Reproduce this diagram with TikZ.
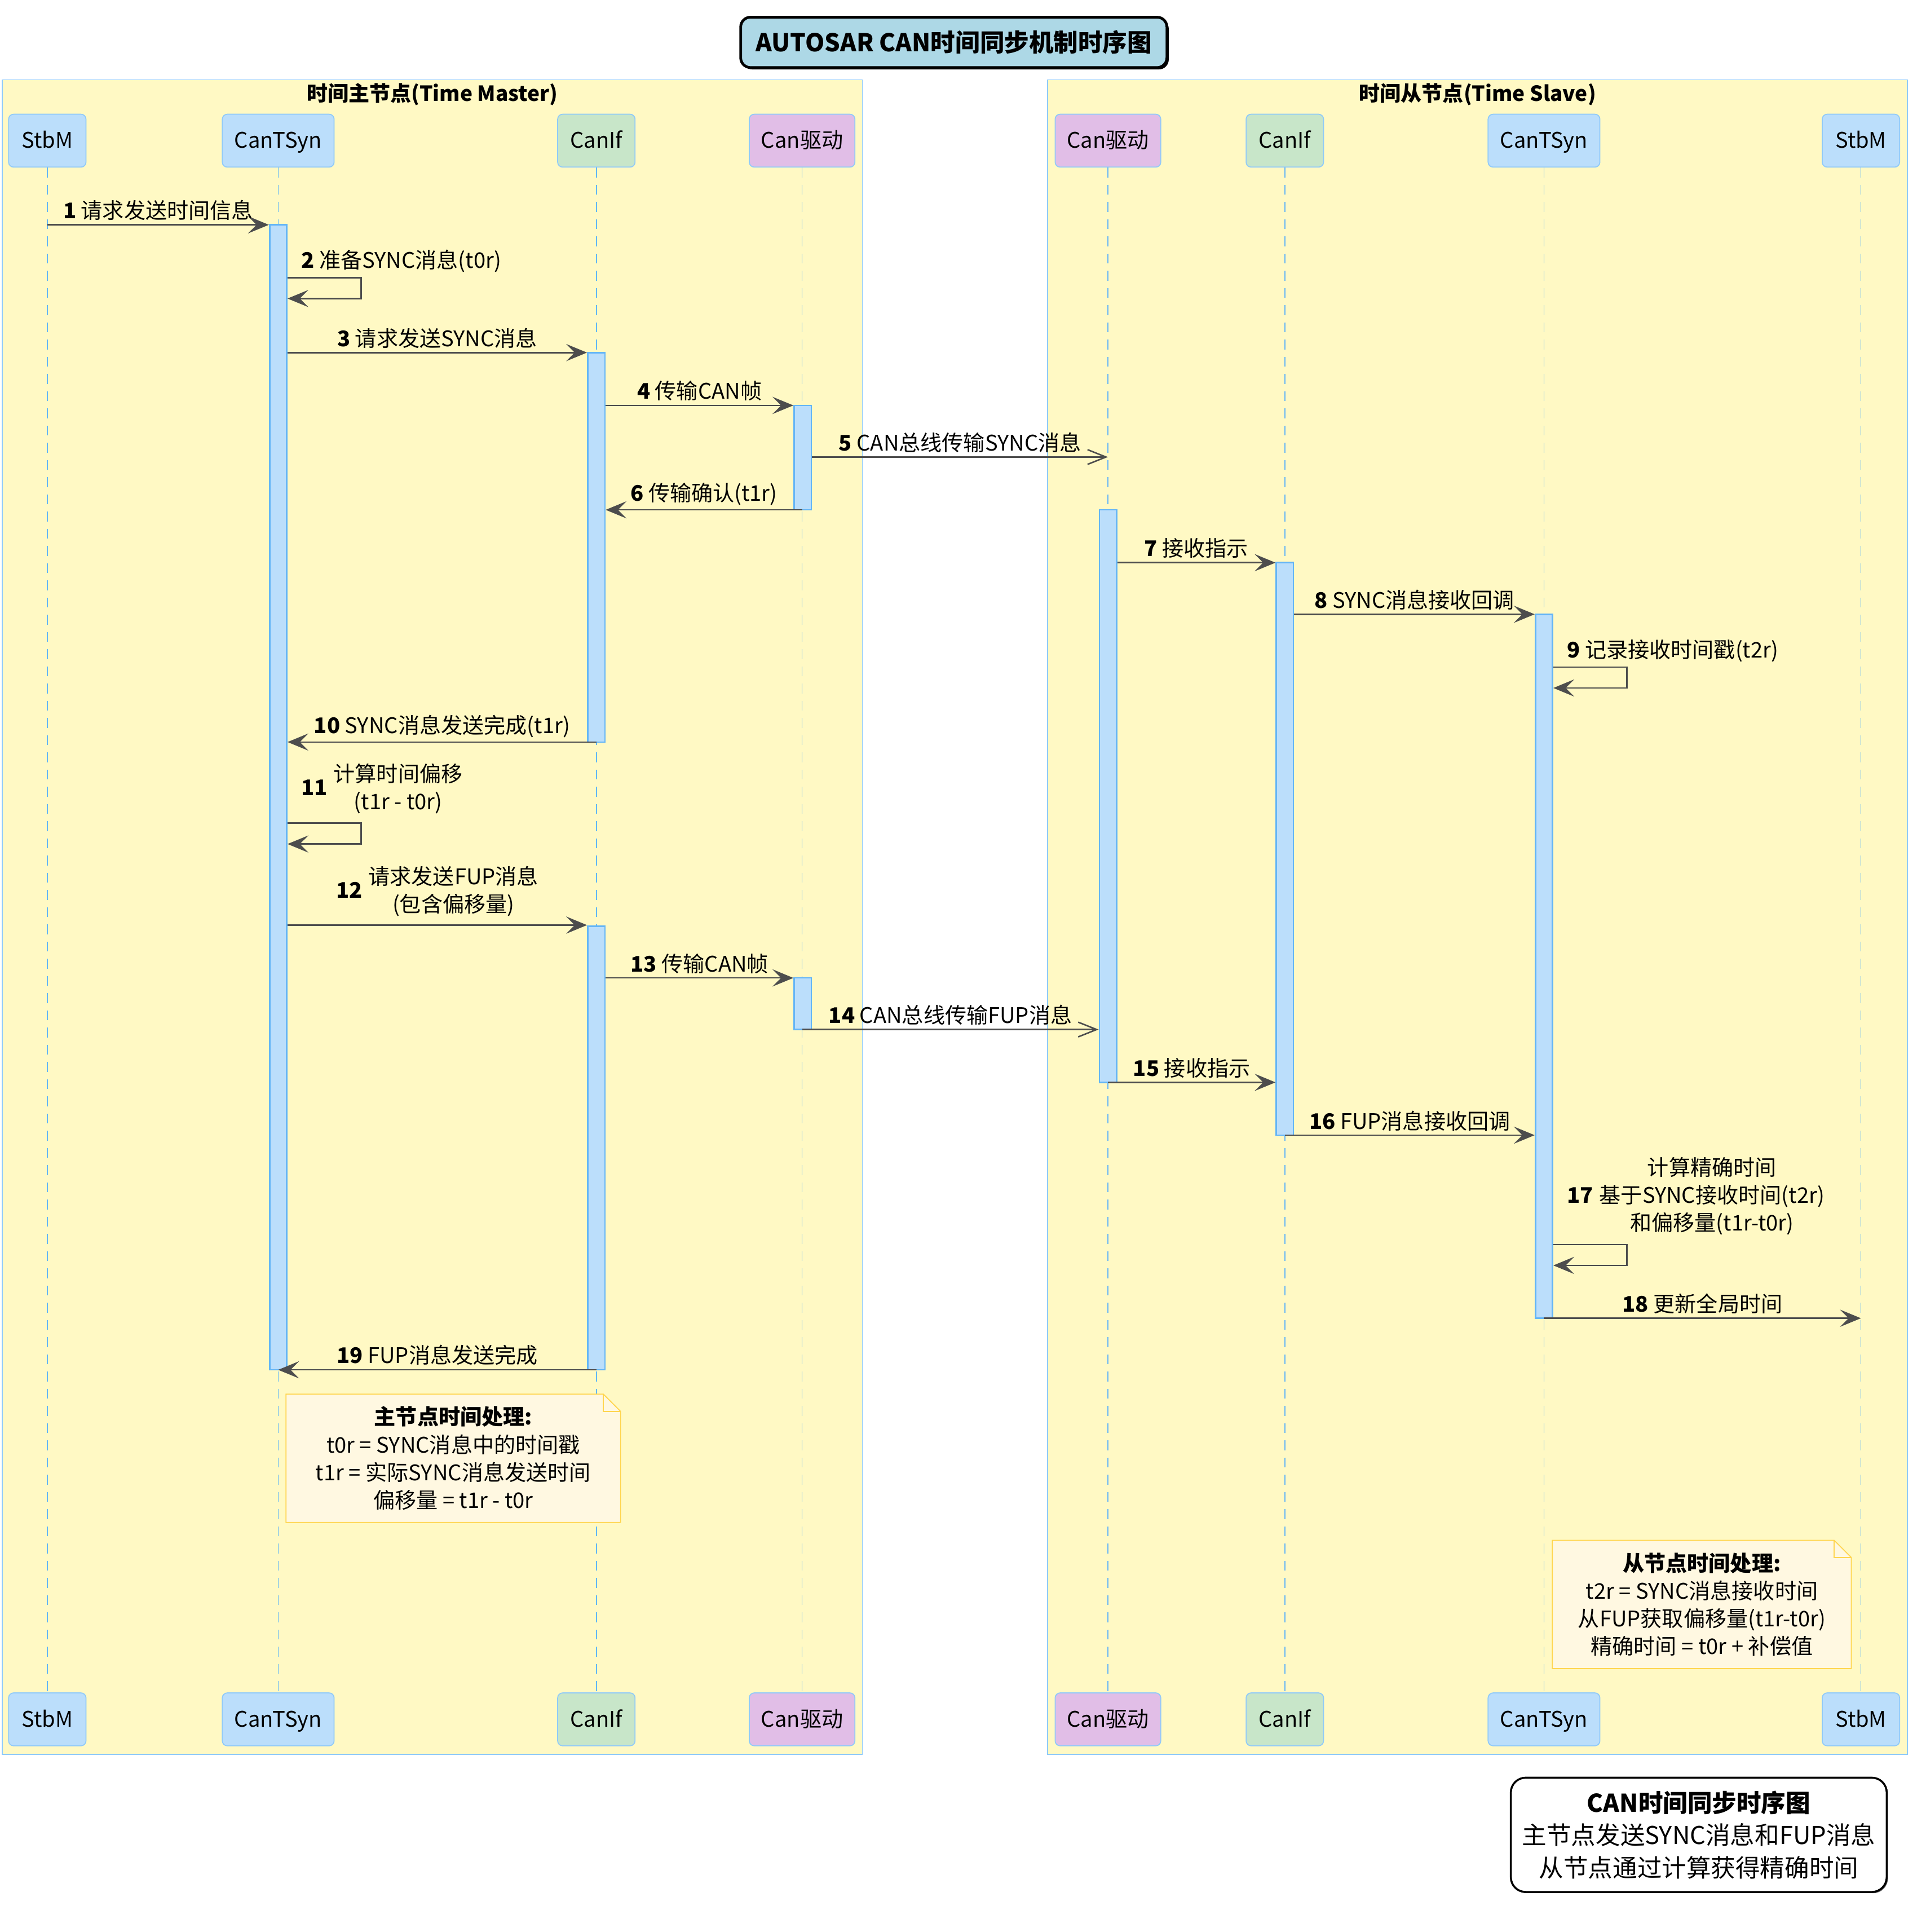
\documentclass[tikz,border=0pt]{standalone}
\usepackage{fontspec}
\setmainfont{Noto Sans CJK SC}
\usepackage{xcolor}
\usepackage{tikz}
\usetikzlibrary{arrows.meta,shadows}

\definecolor{boxyellow}{HTML}{FFF9C4}
\definecolor{boxline}{HTML}{90CAF9}
\definecolor{partblue}{HTML}{BBDEFB}
\definecolor{partgreen}{HTML}{C8E6C9}
\definecolor{partpurple}{HTML}{E1BEE7}
\definecolor{barline}{HTML}{64B5F6}
\definecolor{arrowgray}{HTML}{4D4D4D}
\definecolor{notefill}{HTML}{FFF8E1}
\definecolor{noteline}{HTML}{FFD54F}
\definecolor{titleblue}{HTML}{ADD8E6}

\tikzset{
	groupbox/.style={rectangle, fill=boxyellow, draw=boxline, line width=0.8pt},
	grouptitle/.style={inner sep=0pt, font=\fontsize{17}{20}\selectfont\bfseries},
	part/.style={rectangle, rounded corners=4pt, draw=boxline, line width=0.8pt, minimum height=43, inner sep=0pt, text height=15pt, text depth=3pt, font=\fontsize{17.5}{20}\selectfont},
	lifeline/.style={draw=barline, line width=0.8pt, dash pattern=on 8pt off 6pt},
	actbar/.style={rectangle, fill=partblue, draw=barline, line width=1.2pt, minimum width=14, inner sep=0pt},
	msg/.style={draw=arrowgray, line width=1.2pt, -{Stealth[length=17pt,width=14pt,inset=7pt]}},
	async/.style={draw=arrowgray, line width=1.2pt, -{Straight Barb[length=15pt,width=12pt]}},
	lbl/.style={above=2pt, inner sep=1pt, font=\fontsize{17.5}{22.6}\selectfont},
	selflbl/.style={anchor=south west, inner sep=1pt, font=\fontsize{17.5}{22.6}\selectfont},
	notebox/.style={rectangle, inner sep=0pt},
	noteframe/.style={fill=notefill, draw=noteline, line width=0.8pt},
	notetext/.style={align=center, inner sep=0pt, font=\fontsize{17.5}{22.6}\selectfont},
	titlebox/.style={rectangle, rounded corners=8pt, fill=titleblue, draw=black, line width=2.2pt, minimum width=347, minimum height=41, font=\fontsize{20}{24}\selectfont\bfseries, general shadow={fill=black, shadow xshift=1.5pt, shadow yshift=-1.5pt}},
	legendbox/.style={rectangle, rounded corners=12pt, fill=white, draw=black, line width=1.6pt, minimum width=306, minimum height=93, align=center, font=\fontsize{20}{26.5}\selectfont, general shadow={fill=black!60, shadow xshift=1pt, shadow yshift=-1pt}}
}

\begin{document}
\begin{tikzpicture}[x=1pt, y=-1pt]
	\useasboundingbox[fill=white] (0,0) rectangle (1568,1572.6);

	% title
	\node[titlebox] at (776.5,34.5)(title){AUTOSAR CAN时间同步机制时序图};

	% master and slave boxes
	\node[groupbox, minimum width=700, minimum height=1363] at (352,746.5)(boxM){};
	\node[groupbox, minimum width=700, minimum height=1363] at (1203,746.5)(boxS){};
	\node[grouptitle] at (352,77)(headM){时间主节点(Time Master)};
	\node[grouptitle] at (1203,77)(headS){时间从节点(Time Slave)};

	% participants
	\node[part, fill=partblue,   minimum width=63] at (38.5 ,114.5)(ptop1){StbM};
	\node[part, fill=partblue,   minimum width=91] at (226.5,114.5)(ptop2){CanTSyn};
	\node[part, fill=partgreen,  minimum width=63] at (485.5,114.5)(ptop3){CanIf};
	\node[part, fill=partpurple, minimum width=86] at (653  ,114.5)(ptop4){Can驱动};
	\node[part, fill=partpurple, minimum width=86] at (902  ,114.5)(ptop5){Can驱动};
	\node[part, fill=partgreen,  minimum width=63] at (1046 ,114.5)(ptop6){CanIf};
	\node[part, fill=partblue,   minimum width=91] at (1257 ,114.5)(ptop7){CanTSyn};
	\node[part, fill=partblue,   minimum width=63] at (1515 ,114.5)(ptop8){StbM};
	\node[part, fill=partblue,   minimum width=63] at (38.5 ,1399.5)(pbot1){StbM};
	\node[part, fill=partblue,   minimum width=91] at (226.5,1399.5)(pbot2){CanTSyn};
	\node[part, fill=partgreen,  minimum width=63] at (485.5,1399.5)(pbot3){CanIf};
	\node[part, fill=partpurple, minimum width=86] at (653  ,1399.5)(pbot4){Can驱动};
	\node[part, fill=partpurple, minimum width=86] at (902  ,1399.5)(pbot5){Can驱动};
	\node[part, fill=partgreen,  minimum width=63] at (1046 ,1399.5)(pbot6){CanIf};
	\node[part, fill=partblue,   minimum width=91] at (1257 ,1399.5)(pbot7){CanTSyn};
	\node[part, fill=partblue,   minimum width=63] at (1515 ,1399.5)(pbot8){StbM};

	% lifelines
	\draw[lifeline](ptop1) -- (pbot1);
	\draw[lifeline](ptop2) -- (pbot2);
	\draw[lifeline](ptop3) -- (pbot3);
	\draw[lifeline](ptop4) -- (pbot4);
	\draw[lifeline](ptop5) -- (pbot5);
	\draw[lifeline](ptop6) -- (pbot6);
	\draw[lifeline](ptop7) -- (pbot7);
	\draw[lifeline](ptop8) -- (pbot8);

	% activation bars
	\node[actbar, minimum height=932] at (226.5,649  )(act1){};
	\node[actbar, minimum height=317] at (485.5,445.5)(act2){};
	\node[actbar, minimum height=361] at (485.5,934.5)(act3){};
	\node[actbar, minimum height=85 ] at (653.5,372.5)(act4){};
	\node[actbar, minimum height=42 ] at (653.5,817  )(act5){};
	\node[actbar, minimum height=466] at (902  ,648  )(act6){};
	\node[actbar, minimum height=466] at (1046 ,691  )(act7){};
	\node[actbar, minimum height=573] at (1257 ,786.5)(act8){};

	% message rows
	\coordinate (r1) at (0,183);
	\coordinate (r2) at (0,226);
	\coordinate (r3) at (0,287);
	\coordinate (r4) at (0,330);
	\coordinate (r5) at (0,372);
	\coordinate (r6) at (0,415);
	\coordinate (r7) at (0,458);
	\coordinate (r8) at (0,500);
	\coordinate (r9) at (0,543);
	\coordinate (r10) at (0,604);
	\coordinate (r11) at (0,670);
	\coordinate (r12) at (0,753);
	\coordinate (r13) at (0,796);
	\coordinate (r14) at (0,838);
	\coordinate (r15) at (0,881);
	\coordinate (r16) at (0,924);
	\coordinate (r17) at (0,1013);
	\coordinate (r18) at (0,1073);
	\coordinate (r19) at (0,1115);

	% messages
	\draw[msg](ptop1 |- r1) -- node[lbl]{\textbf{1} 请求发送时间信息}(act1.west |- r1);
	\draw[msg](act1.east |- r2) -- ++(60,0) -- ++(0,17) -- ([yshift=-17pt]act1.east |- r2);
	\node[selflbl] at ([shift={(10pt,3pt)}]act1.east |- r2)(lbl2){\textbf{2} 准备SYNC消息(t0r)};
	\draw[msg](act1.east |- r3) -- node[lbl]{\textbf{3} 请求发送SYNC消息}(act2.west |- r3);
	\draw[msg](act2.east |- r4) -- node[lbl]{\textbf{4} 传输CAN帧}(act4.west |- r4);
	\draw[async](act4.east |- r5) -- node[lbl]{\textbf{5} CAN总线传输SYNC消息}(ptop5 |- r5);
	\draw[msg](ptop4 |- r6) -- node[lbl]{\textbf{6} 传输确认(t1r)}(act2.east |- r6);
	\draw[msg](act6.east |- r7) -- node[lbl]{\textbf{7} 接收指示}(act7.west |- r7);
	\draw[msg](act7.east |- r8) -- node[lbl]{\textbf{8} SYNC消息接收回调}(act8.west |- r8);
	\draw[msg](act8.east |- r9) -- ++(60,0) -- ++(0,17) -- ([yshift=-17pt]act8.east |- r9);
	\node[selflbl] at ([shift={(10pt,3pt)}]act8.east |- r9)(lbl9){\textbf{9} 记录接收时间戳(t2r)};
	\draw[msg](ptop3 |- r10) -- node[lbl]{\textbf{10} SYNC消息发送完成(t1r)}(act1.east |- r10);
	\draw[msg](act1.east |- r11) -- ++(60,0) -- ++(0,17) -- ([yshift=-17pt]act1.east |- r11);
	\node[selflbl] at ([shift={(10pt,3pt)}]act1.east |- r11)(lbl11){\textbf{11}\hspace{5pt}\begin{tabular}[c]{@{}c@{}}计算时间偏移\\(t1r - t0r)\end{tabular}};
	\draw[msg](act1.east |- r12) -- node[lbl]{\textbf{12}\hspace{5pt}\begin{tabular}[c]{@{}c@{}}请求发送FUP消息\\(包含偏移量)\end{tabular}}(act3.west |- r12);
	\draw[msg](act3.east |- r13) -- node[lbl]{\textbf{13} 传输CAN帧}(act5.west |- r13);
	\draw[async](ptop4 |- r14) -- node[lbl]{\textbf{14} CAN总线传输FUP消息}(act6.west |- r14);
	\draw[msg](ptop5 |- r15) -- node[lbl]{\textbf{15} 接收指示}(act7.west |- r15);
	\draw[msg](ptop6 |- r16) -- node[lbl]{\textbf{16} FUP消息接收回调}(act8.west |- r16);
	\draw[msg](act8.east |- r17) -- ++(60,0) -- ++(0,17) -- ([yshift=-17pt]act8.east |- r17);
	\node[selflbl] at ([shift={(10pt,3pt)}]act8.east |- r17)(lbl17){\textbf{17}\hspace{5pt}\begin{tabular}[c]{@{}c@{}}计算精确时间\\基于SYNC接收时间(t2r)\\和偏移量(t1r-t0r)\end{tabular}};
	\draw[msg](ptop7 |- r18) -- node[lbl]{\textbf{18} 更新全局时间}(ptop8 |- r18);
	\draw[msg](ptop3 |- r19) -- node[lbl]{\textbf{19} FUP消息发送完成}(ptop2 |- r19);

	% notes
	\node[notebox, minimum width=272, minimum height=104] at (369,1187)(note1){};
	\draw[noteframe](note1.north west) -- ([xshift=-14pt]note1.north east) -- ([yshift=-14pt]note1.north east) -- (note1.south east) -- (note1.south west) -- cycle;
	\draw[noteframe, fill=none]([xshift=-14pt]note1.north east) |- ([yshift=-14pt]note1.north east);
	\node[notetext] at (note1.center)(note1txt){\textbf{主节点时间处理:}\\t0r = SYNC消息中的时间戳\\t1r = 实际SYNC消息发送时间\\偏移量 = t1r - t0r};
	\node[notebox, minimum width=243, minimum height=104] at (1385.5,1306)(note2){};
	\draw[noteframe](note2.north west) -- ([xshift=-14pt]note2.north east) -- ([yshift=-14pt]note2.north east) -- (note2.south east) -- (note2.south west) -- cycle;
	\draw[noteframe, fill=none]([xshift=-14pt]note2.north east) |- ([yshift=-14pt]note2.north east);
	\node[notetext] at (note2.center)(note2txt){\textbf{从节点时间处理:}\\t2r = SYNC消息接收时间\\从FUP获取偏移量(t1r-t0r)\\精确时间 = t0r + 补偿值};

	% legend
	\node[legendbox] at (1383,1493.5)(legend){\textbf{CAN时间同步时序图}\\主节点发送SYNC消息和FUP消息\\从节点通过计算获得精确时间};
\end{tikzpicture}
\end{document}
